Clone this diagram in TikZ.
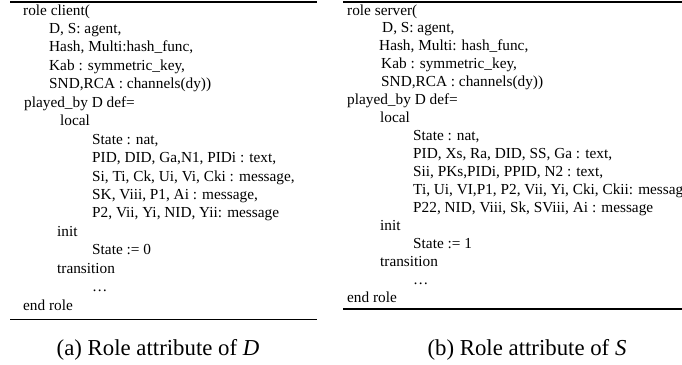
\documentclass[tikz,border=0pt]{standalone}
\usepackage{fontspec}
\setmainfont{Liberation Serif}
\begin{document}
\begin{tikzpicture}[x=1pt,y=-1pt,
  code/.style={anchor=base west,inner sep=0pt,font=\fontsize{15.3}{18}\selectfont},
  captext/.style={anchor=base,inner sep=0pt,font=\fontsize{22.8}{26}\selectfont},
  toprule/.style={line width=1.6pt},
  botrule/.style={line width=1.2pt}]
\useasboundingbox (0,0) rectangle (682,364);
% left panel
\draw[toprule] (10,2) -- (317,2);
\def\L#1{15+18.45*#1}
\node[code] (l0) at (23,{\L{0}}) {role client(};
\node[code] (l1) at (49,{\L{1}}) {D, S: agent,};
\node[code] (l2) at (49,{\L{2}}) {Hash, Multi:hash\_func,};
\node[code] (l3) at (49,{\L{3}}) {Kab : symmetric\_key,};
\node[code] (l4) at (49,{\L{4}}) {SND,RCA : channels(dy))};
\node[code] (l5) at (24,{\L{5}}) {played\_by D def=};
\node[code] (l6) at (60,{\L{6}}) {local};
\node[code] (l7) at (92,{\L{7}}) {State : nat,};
\node[code] (l8) at (92,{\L{8}}) {PID, DID, Ga,N1, PIDi : text,};
\node[code] (l9) at (92,{\L{9}}) {Si, Ti, Ck, Ui, Vi, Cki : message,};
\node[code] (l10) at (92,{\L{10}}) {SK, Viii, P1, Ai : message,};
\node[code] (l11) at (92,{\L{11}}) {P2, Vii, Yi, NID, Yii: message};
\node[code] (l12) at (57,{\L{12}}) {init};
\node[code] (l13) at (92,{\L{13}}) {State := 0};
\node[code] (l14) at (57,{\L{14}}) {transition};
\node[code] (l15) at (92,{\L{15}}) {\dots};
\node[code] (l16) at (23,{\L{16}}) {end role};
\draw[botrule] (10,319.5) -- (317,319.5);
\node[captext] (capa) at (158,355) {(a) Role attribute of \textit{D}};
% right panel
\draw[toprule] (343,2) -- (682,2);
\def\R#1{15+17.95*#1}
\node[code] (r0) at (347,{\R{0}}) {role server(};
\node[code] (r1) at (382,{\R{1}}) {D, S: agent,};
\node[code] (r2) at (379,{\R{2}}) {Hash, Multi: hash\_func,};
\node[code] (r3) at (381,{\R{3}}) {Kab : symmetric\_key,};
\node[code] (r4) at (381,{\R{4}}) {SND,RCA : channels(dy))};
\node[code] (r5) at (347,{\R{5}}) {played\_by D def=};
\node[code] (r6) at (380,{\R{6}}) {local};
\node[code] (r7) at (413,{\R{7}}) {State : nat,};
\node[code] (r8) at (413,{\R{8}}) {PID, Xs, Ra, DID, SS, Ga : text,};
\node[code] (r9) at (413,{\R{9}}) {Sii, PKs,PIDi, PPID, N2 : text,};
\node[code] (r10) at (413,{\R{10}}) {Ti, Ui, VI,P1, P2, Vii, Yi, Cki, Ckii: messag};
\node[code] (r11) at (413,{\R{11}}) {P22, NID, Viii, Sk, SViii, Ai : message};
\node[code] (r12) at (380,{\R{12}}) {init};
\node[code] (r13) at (413,{\R{13}}) {State := 1};
\node[code] (r14) at (380,{\R{14}}) {transition};
\node[code] (r15) at (413,{\R{15}}) {\dots};
\node[code] (r16) at (347,{\R{16}}) {end role};
\draw[botrule] (343,309) -- (682,309);
\node[captext] (capb) at (527,355) {(b) Role attribute of \textit{S}};
\end{tikzpicture}
\end{document}
